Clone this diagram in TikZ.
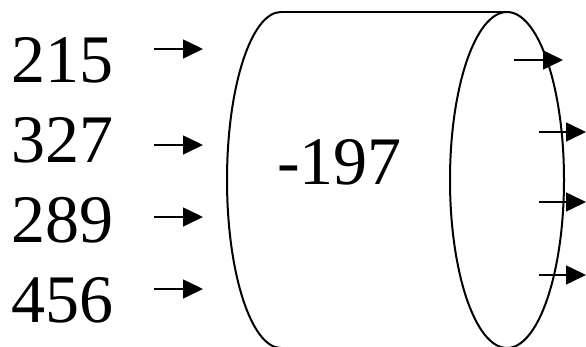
\documentclass[tikz,border=0pt]{standalone}
\usepackage{fontspec}
\setmainfont{Liberation Serif}
\usetikzlibrary{arrows.meta}
\tikzset{
  num/.style={anchor=base west,inner sep=0pt,font=\fontsize{68}{68}\selectfont},
  arr/.style={line width=1.6pt,-{Triangle[length=20pt,width=19pt]}},
  edge/.style={line width=2pt}
}
\begin{document}
\begin{tikzpicture}[x=1pt,y=-1pt]
\useasboundingbox (0,0) rectangle (586,347);
\clip (0,0) rectangle (586,347);
% cylinder
\draw[edge] (281,12) arc[start angle=270,end angle=90,x radius=54,y radius=168];
\draw[edge] (281,12) -- (507,12);
\draw[edge] (281,348) -- (507,348);
\draw[edge] (507,180) ellipse[x radius=57,y radius=168];
% texts
\node[num] (a) at (11,83) {215};
\node[num] (b) at (11,163) {327};
\node[num] (c) at (11,243) {289};
\node[num] (d) at (11,322) {456};
\node[num] (m) at (277,185) {-197};
% input arrows
\coordinate (a1) at (154,49);  \coordinate (a2) at (203,49);
\coordinate (b1) at (154,145); \coordinate (b2) at (203,145);
\coordinate (c1) at (154,217); \coordinate (c2) at (203,217);
\coordinate (d1) at (154,289); \coordinate (d2) at (203,289);
\draw[arr] (a1) -- (a2);
\draw[arr] (b1) -- (b2);
\draw[arr] (c1) -- (c2);
\draw[arr] (d1) -- (d2);
% output arrows
\coordinate (o1) at (514,60);  \coordinate (p1) at (563,60);
\coordinate (o2) at (539,132); \coordinate (p2) at (586,132);
\coordinate (o3) at (539,202); \coordinate (p3) at (586,202);
\coordinate (o4) at (539,275); \coordinate (p4) at (586,275);
\draw[arr] (o1) -- (p1);
\draw[arr] (o2) -- (p2);
\draw[arr] (o3) -- (p3);
\draw[arr] (o4) -- (p4);
\end{tikzpicture}
\end{document}
